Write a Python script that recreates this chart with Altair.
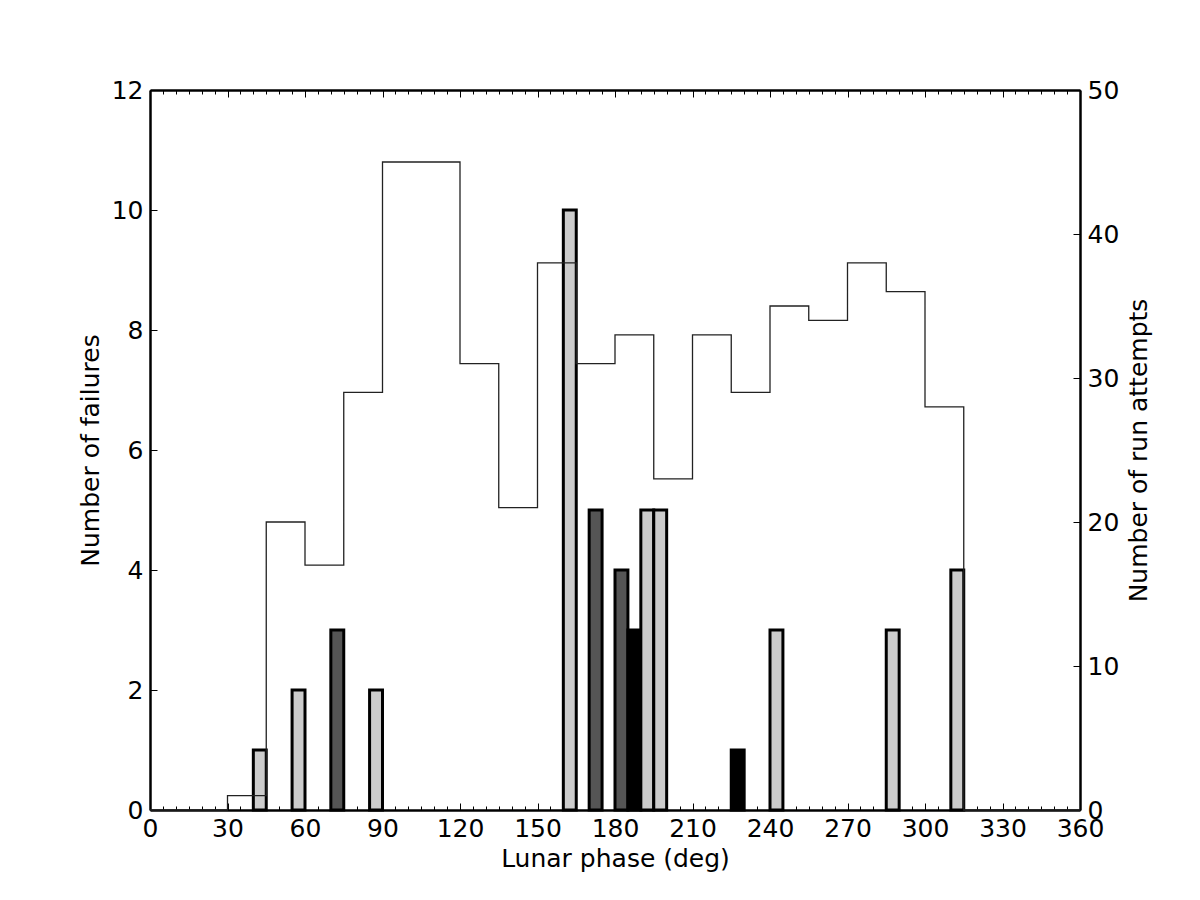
import altair as alt
import pandas as pd

# Failures histogram (5-degree bins)
fail_start = [40, 55, 70, 85, 160, 170, 180, 185, 190, 195, 225, 240, 285, 310]
fail_count = [1, 2, 3, 2, 10, 5, 4, 3, 5, 5, 1, 3, 3, 4]
fail_group = ["light", "light", "dark", "light", "light", "dark", "dark", "black",
              "light", "light", "black", "light", "light", "light"]
BIN = 5

# Run attempts (15-degree step histogram)
run_start = [0, 30, 45, 60, 75, 90, 105, 120, 135, 150, 165, 180, 195, 210,
             225, 240, 255, 270, 285, 300, 315, 360]
run_count = [0, 1, 20, 17, 29, 45, 45, 31, 21, 38, 31, 33, 23, 33,
             29, 35, 34, 38, 36, 28, 0, 0]

x_major = list(range(0, 361, 30))
x_minor = list(range(0, 361, 5))
y_left_ticks = list(range(0, 13, 2))
y_right_ticks = list(range(0, 51, 10))

fail_df = pd.DataFrame({
    "start": fail_start,
    "end": [s + BIN for s in fail_start],
    "count": fail_count,
    "base": [0] * len(fail_start),
    "group": fail_group,
})
run_df = pd.DataFrame({"phase": run_start, "runs": run_count})

FONT = "DejaVu Sans"
FS = 25
xscale = alt.Scale(domain=[0, 360], nice=False, zero=False)
yl = alt.Scale(domain=[0, 12], nice=False)
yr = alt.Scale(domain=[0, 50], nice=False)

bars = alt.Chart(fail_df).mark_rect(stroke="black", strokeWidth=3).encode(
    x=alt.X("start:Q", scale=xscale, axis=alt.Axis(
        orient="bottom", values=x_major, ticks=False, domain=True, domainWidth=2.5,
        labelFontSize=FS, labelPadding=6, labelFlush=False, labelOverlap=False,
        title="Lunar phase (deg)", titleFontSize=FS, titleFontWeight="normal", titlePadding=5)),
    x2="end:Q",
    y=alt.Y("count:Q", scale=yl, axis=alt.Axis(
        orient="left", values=y_left_ticks, ticks=False, domain=True, domainWidth=2.5,
        labelFontSize=FS, labelPadding=7, labelFlush=False, labelOverlap=False,
        title="Number of failures", titleFontSize=FS, titleFontWeight="normal", titlePadding=8)),
    y2="base:Q",
    fill=alt.Fill("group:N", scale=alt.Scale(domain=["light", "dark", "black"],
                                             range=["#cccccc", "#555555", "#000000"]), legend=None),
)

line = alt.Chart(run_df).mark_line(interpolate="step-after", color="#222222", strokeWidth=1.3).encode(
    x=alt.X("phase:Q", scale=xscale, axis=alt.Axis(
        orient="top", labels=False, ticks=False, domain=True, domainWidth=2.5, title=None)),
    y=alt.Y("runs:Q", scale=yr, axis=alt.Axis(
        orient="right", values=y_right_ticks, ticks=False, domain=True, domainWidth=2.5,
        labelFontSize=FS, labelPadding=7, labelFlush=False, labelOverlap=False,
        title="Number of run attempts", titleFontSize=FS, titleFontWeight="normal",
        titlePadding=8, titleAngle=270, titleBaseline="top")),
)


def xticks(orient, values, size):
    return alt.Chart(run_df).mark_rule(opacity=0).encode(
        x=alt.X("phase:Q", scale=xscale, axis=alt.Axis(
            orient=orient, values=values, tickSize=size, offset=-size, labels=False,
            domain=False, ticks=True, tickWidth=1, title=None)))


def yticks(df, field, orient, scale, values, size):
    return alt.Chart(df).mark_rule(opacity=0).encode(
        y=alt.Y(field, scale=scale, axis=alt.Axis(
            orient=orient, values=values, tickSize=size, offset=-size, labels=False,
            domain=False, ticks=True, tickWidth=1, title=None)))


chart = alt.layer(
    bars,
    line,
    xticks("bottom", x_major, 7),
    xticks("bottom", x_minor, 4),
    xticks("top", x_major, 7),
    xticks("top", x_minor, 4),
    yticks(fail_df, "count:Q", "left", yl, y_left_ticks, 7),
    yticks(run_df, "runs:Q", "right", yr, y_right_ticks, 7),
).resolve_scale(y="independent").resolve_axis(x="independent", y="independent").properties(
    width=930, height=720,
    autosize=alt.AutoSizeParams(type="none"),
    padding={"left": 142, "top": 82, "right": 100, "bottom": 70},
).configure_axis(
    grid=False, labelFont=FONT, titleFont=FONT, labelColor="black", titleColor="black",
    tickColor="black", domainColor="black",
).configure_view(strokeWidth=0)

chart.save("out.html", embed_options={"renderer": "svg", "actions": False})
